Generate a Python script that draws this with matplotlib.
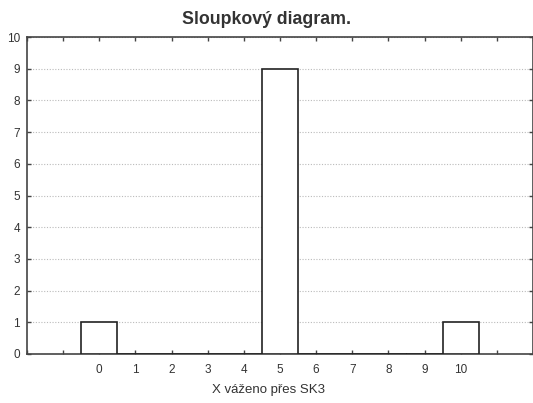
import matplotlib
matplotlib.use("Agg")
import matplotlib.pyplot as plt

categories = [0, 1, 2, 3, 4, 5, 6, 7, 8, 9, 10]
counts = [1, 0, 0, 0, 0, 9, 0, 0, 0, 0, 1]
tick_labels = [str(c) for c in categories]
title = "Sloupkový diagram."
xlabel = "X váženo přes SK3"

plt.rcParams['font.family'] = ['Liberation Sans', 'DejaVu Sans']

W, H = 533, 403
fig = plt.figure(figsize=(W / 100, H / 100), dpi=100)
ax = fig.add_axes([27/W, 1 - 354/H, (W-27)/W, (354-37)/H])

ax.bar(categories, counts, width=1.0, color='white', edgecolor='#222222', linewidth=1.2, zorder=3)

ax.set_xlim(-2, 12)
ax.set_ylim(0, 10)
ax.set_yticks(range(0, 11))
ax.set_xticks(range(-2, 13))
ax.set_xticklabels([''] * 2 + tick_labels + [''] * 2)
ax.yaxis.grid(True, linestyle=(0, (1, 1.5)), color='#bbbbbb', linewidth=0.8)
ax.set_axisbelow(True)

ax.tick_params(axis='both', direction='in', length=3, width=1, color='#444444',
               labelsize=8.5, labelcolor='#333333', top=True, right=True, pad=5)
ax.tick_params(axis='x', pad=7)
for s in ax.spines.values():
    s.set_color('#444444')
    s.set_linewidth(1.2)

fig.text(266.5/W, 1 - 19.5/H, title, fontsize=12.8, fontweight='bold', color='#333333',
         ha='center', va='center')
fig.text(269/W, 1 - 390/H, xlabel, fontsize=9.5, color='#333333', ha='center', va='center')

fig.savefig('out.png', dpi=100)
